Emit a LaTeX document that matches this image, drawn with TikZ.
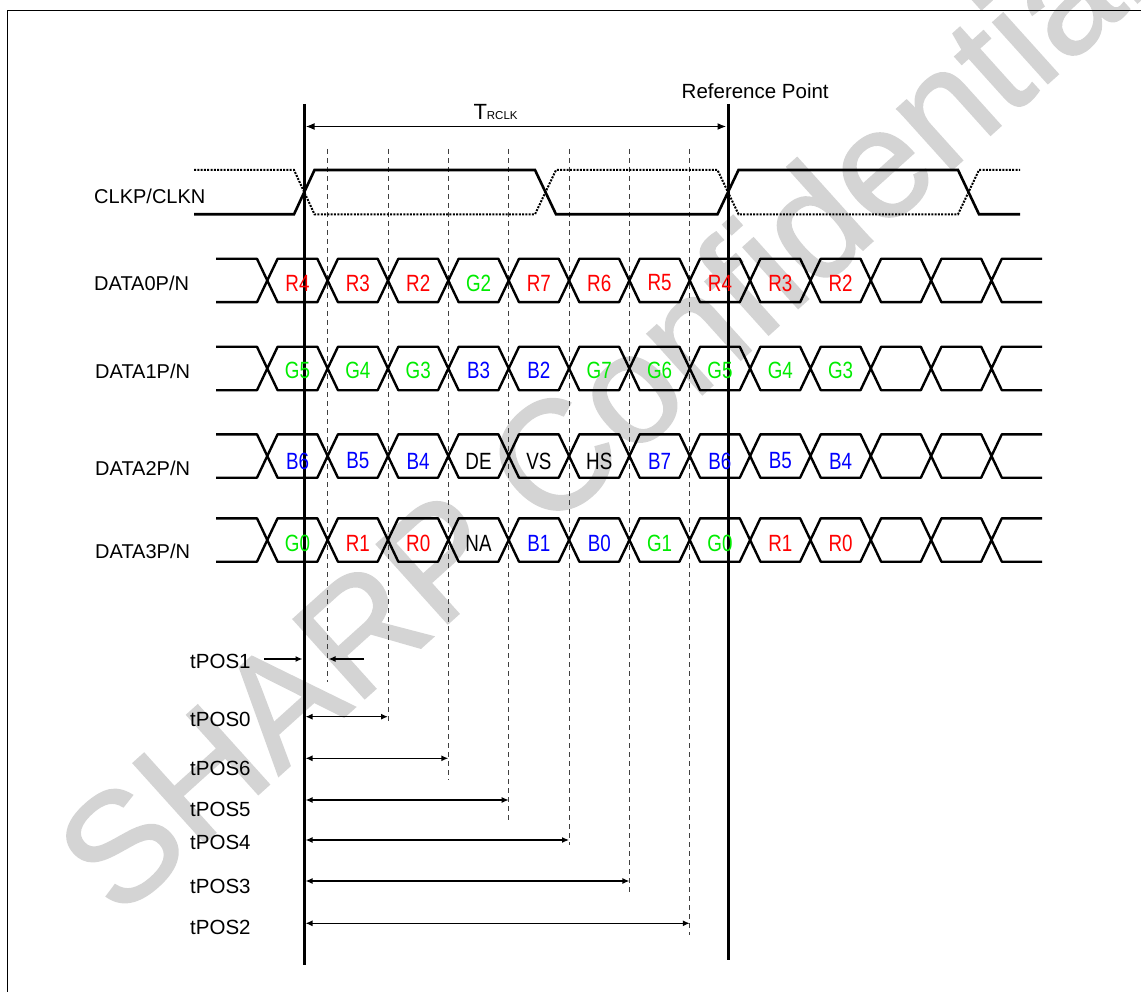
\documentclass[tikz,border=0pt]{standalone}
\usepackage{fontspec}
\setmainfont{Liberation Sans}
\newfontfamily\cellfont[FakeStretch=0.8]{Liberation Sans}
\newfontfamily\markfont[FakeBold=1.2]{Liberation Sans}
\usepackage{tikz}
\usetikzlibrary{arrows.meta}
\usetikzlibrary{positioning}
\usetikzlibrary{calc}
\definecolor{bitred}{RGB}{255,0,0}
\definecolor{bitgreen}{RGB}{0,235,0}
\definecolor{bitblue}{RGB}{0,0,255}
\definecolor{bitblack}{RGB}{0,0,0}
\colorlet{wmark}{black!17}
\tikzstyle{refline}=[line width=3pt]
\tikzstyle{dashline}=[black!75,line width=0.9pt,dash pattern=on 5pt off 4pt]
\tikzstyle{dimline}=[line width=1.3pt,{Latex[length=7pt,width=6pt]}-{Latex[length=7pt,width=6pt]},shorten <=1.5pt]
\tikzstyle{oneway}=[line width=1.3pt,-{Latex[length=7pt,width=6pt]}]

% one serial lane, #1 = centre y
\newcommand{\lane}[1]{%
  \draw[bus] (216,{#1-21.7}) \foreach \k in {0,...,12}{
     -- ({267.3+60.35*\k-10.3},{#1-21.7}) -- ({267.3+60.35*\k},#1) -- ({267.3+60.35*\k+10.3},{#1-21.7})} -- (1042,{#1-21.7});
  \draw[bus] (216,{#1+21.7}) \foreach \k in {0,...,12}{
     -- ({267.3+60.35*\k-10.3},{#1+21.7}) -- ({267.3+60.35*\k},#1) -- ({267.3+60.35*\k+10.3},{#1+21.7})} -- (1042,{#1+21.7});
}

\begin{document}
\begin{tikzpicture}[x=1pt,y=-1pt,
  wave/.style={line width=2.6pt},
  wavedot/.style={line width=2pt,dash pattern=on 2pt off 1.3pt},
  bus/.style={line width=2.4pt,line join=round},
  sig/.style={font=\fontsize{20}{20}\selectfont,anchor=base west,inner sep=0},
  skewlabel/.style={font=\fontsize{20.5}{20.5}\selectfont,anchor=base west,inner sep=0},
  cell/.style={font=\cellfont\fontsize{23.5}{23.5}\selectfont,inner sep=0},
]
\useasboundingbox (0,0) rectangle (1141,992);

% watermark
\node[rotate=42,text=wmark,font=\markfont\fontsize{155}{155}\selectfont] (wm) at (600,412) {SHARP Confidential};

\draw[line width=1.5pt] (7.5,992) -- (7.5,10.5) -- (1141,10.5);

% reference lines
\coordinate (L0) at (304,104);
\coordinate (L1) at (304,965);
\coordinate (R0) at (728,104);
\coordinate (R1) at (728,960);
\draw[refline] (L0) -- (L1);
\draw[refline] (R0) -- (R1);

\node[font=\fontsize{20.5}{20.5}\selectfont,anchor=base west,inner sep=0] (refpt) at (681.5,98.3) {Reference Point};
\coordinate (ta) at (304,126.5);
\coordinate (tb) at (728,126.5);
\draw[line width=1.8pt,{Latex[length=9pt,width=7pt]}-{Latex[length=9pt,width=7pt]},shorten <=1.5pt,shorten >=1.5pt] (ta) -- (tb);
\node[anchor=base west,inner sep=0] (trclk) at (473.3,119.3)
  {\fontsize{22}{22}\selectfont T\fontsize{11.5}{11.5}\selectfont RCLK};

% bit boundaries
\foreach \k/\e in {1/682,2/723,3/780,4/821,5/845,6/893,7/935}
  \draw[dashline] ({267.3+60.35*\k},149) -- ({267.3+60.35*\k},\e);

% clock
\node[sig] (clk) at (94,203.3) {CLKP/CLKN};
\draw[wave] (194,214.3) -- (294,214.3) -- (314.5,170) -- (535,170) -- (556,214.3)
  -- (717.5,214.3) -- (738.5,170) -- (958,170) -- (979,214.3) -- (1020,214.3);
\draw[wavedot] (194,170) -- (294,170) -- (314.5,214.3) -- (535,214.3) -- (556,170)
  -- (717.5,170) -- (738.5,214.3) -- (958,214.3) -- (979,170) -- (1020,170);

% data lanes
\node[sig] (d0) at (94,291) {DATA0P/N};
\node[sig] (d1) at (95,378.3) {DATA1P/N};
\node[sig] (d2) at (95,475) {DATA2P/N};
\node[sig] (d3) at (95,558.3) {DATA3P/N};
\lane{280.5}
\lane{368.5}
\lane{456}
\lane{540}

\foreach \b/\c [count=\i from 0] in {R4/bitred,R3/bitred,R2/bitred,G2/bitgreen,R7/bitred,
    R6/bitred,R5/bitred,R4/bitred,R3/bitred,R2/bitred}
  \node[cell,text=\c] (a\i) at ({297.5+60.35*\i},283) {\b};
\foreach \b/\c [count=\i from 0] in {G5/bitgreen,G4/bitgreen,G3/bitgreen,B3/bitblue,B2/bitblue,
    G7/bitgreen,G6/bitgreen,G5/bitgreen,G4/bitgreen,G3/bitgreen}
  \node[cell,text=\c] (b\i) at ({297.5+60.35*\i},370) {\b};
\foreach \b/\c [count=\i from 0] in {B6/bitblue,B5/bitblue,B4/bitblue,DE/bitblack,VS/bitblack,
    HS/bitblack,B7/bitblue,B6/bitblue,B5/bitblue,B4/bitblue}
  \node[cell,text=\c] (c\i) at ({297.5+60.35*\i},461) {\b};
\foreach \b/\c [count=\i from 0] in {G0/bitgreen,R1/bitred,R0/bitred,NA/bitblack,B1/bitblue,
    B0/bitblue,G1/bitgreen,G0/bitgreen,R1/bitred,R0/bitred}
  \node[cell,text=\c] (e\i) at ({297.5+60.35*\i},543) {\b};

% position skews
\node[skewlabel] (pos1) at (190,668.5) {tPOS1};
\node[skewlabel] (pos0) at (190,726.5) {tPOS0};
\node[skewlabel] (pos6) at (190,775) {tPOS6};
\node[skewlabel] (pos5) at (190,816.5) {tPOS5};
\node[skewlabel] (pos4) at (190,849.5) {tPOS4};
\node[skewlabel] (pos3) at (190,893.5) {tPOS3};
\node[skewlabel] (pos2) at (190,934.5) {tPOS2};

\coordinate (p1a) at (264,659);
\coordinate (p1b) at (302.5,659);
\coordinate (p1c) at (364,659);
\coordinate (p1d) at (328.5,659);
\draw[oneway] (p1a) -- (p1b);
\draw[oneway] (p1c) -- (p1d);
\foreach \k/\y in {2/716.7,3/758.3,4/800,5/840,6/881,7/923.3}
  \draw[dimline] (304,\y) -- ({267.3+60.35*\k},\y);
\end{tikzpicture}
\end{document}
